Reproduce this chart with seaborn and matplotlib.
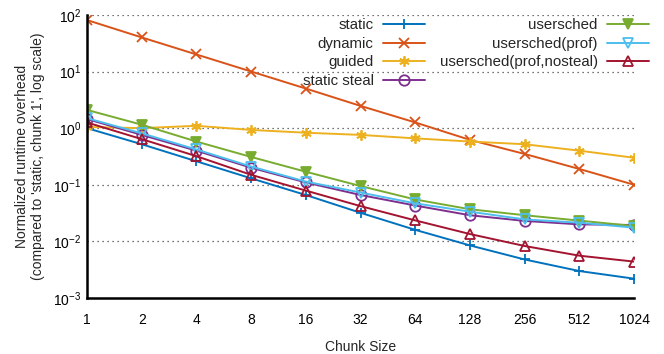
import numpy as np
import matplotlib
matplotlib.use("Agg")
import matplotlib.pyplot as plt
import matplotlib.ticker as mticker
import seaborn as sns

# datos
chunk = [1, 2, 4, 8, 16, 32, 64, 128, 256, 512, 1024]

static = [1.0, 0.52, 0.26, 0.13, 0.066, 0.032, 0.016, 0.0085, 0.0048, 0.0030, 0.0022]
dynamic = [81, 40, 20, 10, 5.0, 2.47, 1.26, 0.62, 0.35, 0.19, 0.10]
guided = [1.05, 1.0, 1.1, 0.93, 0.83, 0.76, 0.66, 0.58, 0.52, 0.40, 0.30]
static_steal = [1.45, 0.76, 0.40, 0.20, 0.11, 0.066, 0.043, 0.029, 0.023, 0.020, 0.0195]
usersched = [2.1, 1.15, 0.58, 0.31, 0.17, 0.095, 0.055, 0.037, 0.029, 0.0233, 0.0187]
usersched_prof = [1.5, 0.81, 0.42, 0.21, 0.114, 0.073, 0.047, 0.0335, 0.0245, 0.0214, 0.0175]
usersched_nosteal = [1.26, 0.64, 0.32, 0.15, 0.079, 0.042, 0.0235, 0.0135, 0.0083, 0.0056, 0.0044]

series = [
    ("static", static, "#0072BD", "+", True),
    ("dynamic", dynamic, "#D95319", "x", True),
    ("guided", guided, "#EDB120", (6, 2, 0), True),
    ("static steal", static_steal, "#7E2F8E", "o", False),
    ("usersched", usersched, "#77AC30", "v", True),
    ("usersched(prof)", usersched_prof, "#4DBEEE", "v", False),
    ("usersched(prof,nosteal)", usersched_nosteal, "#A2142F", "^", False),
]

sns.set_style("white")
plt.rcParams['font.family'] = ['Liberation Sans', 'DejaVu Sans']

fig = plt.figure(figsize=(6.64, 3.54), dpi=100)
ax = fig.add_axes([0.131, 0.158, 0.824, 0.8])

for nombre, vals, col, mk, lleno in series:
    sns.lineplot(x=chunk, y=vals, ax=ax, color=col, marker=mk, label=nombre,
                 linewidth=1.4, markersize=7.5, markeredgewidth=1.3,
                 markerfacecolor=col if lleno else "none", markeredgecolor=col)

ax.set_xscale("log", base=2)
ax.set_yscale("log")
ax.set_xlim(1, 1024)
ax.set_ylim(1e-3, 1e2)
ax.set_xticks(chunk)
ax.set_xticklabels([str(c) for c in chunk])
ax.xaxis.set_minor_locator(mticker.NullLocator())
ax.yaxis.set_major_locator(mticker.LogLocator(base=10, numticks=10))
ax.yaxis.set_minor_locator(mticker.LogLocator(base=10, subs=np.arange(2, 10), numticks=20))
ax.yaxis.set_minor_formatter(mticker.NullFormatter())

ax.tick_params(axis="both", which="major", direction="in", length=6, width=1.2,
               labelsize=10, colors="black", pad=11)
ax.tick_params(axis="y", which="minor", direction="in", length=3, width=1.0)
ax.tick_params(axis="y", which="major", pad=4)

for s in ["top", "right"]:
    ax.spines[s].set_visible(False)
for s in ["left", "bottom"]:
    ax.spines[s].set_color("black")
    ax.spines[s].set_linewidth(1.8)

ax.yaxis.grid(True, which="major", linestyle=(0, (1, 3)), color="#444444", linewidth=0.9)
ax.xaxis.grid(False)

ax.set_xlabel("Chunk Size", fontsize=10, labelpad=9)
ax.set_ylabel("Normalized runtime overhead\n(compared to 'static, chunk 1', log scale)",
              fontsize=10, labelpad=6)

ax.legend(loc="upper right", bbox_to_anchor=(0.993, 0.978), bbox_transform=fig.transFigure,
          ncol=2, frameon=False, markerfirst=False, fontsize=10.8, handlelength=2.8,
          handletextpad=0.6, columnspacing=1.0, labelspacing=0.3, borderpad=0.2)

fig.savefig("out.png", dpi=100)
